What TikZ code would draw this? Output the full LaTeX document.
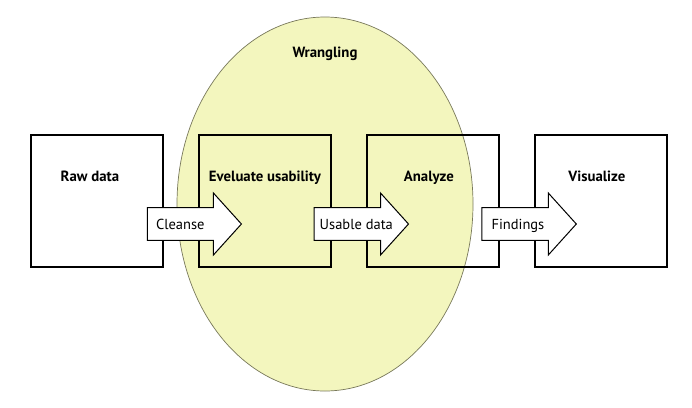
\documentclass[tikz,border=0pt]{standalone}
\usepackage{fontspec}
\setmainfont{PT Sans}
\usetikzlibrary{positioning, calc, shapes.geometric}
\definecolor{wrangfill}{RGB}{243,246,190}
\definecolor{wrangline}{RGB}{120,120,90}

\begin{document}
\begin{tikzpicture}[x=1pt, y=-1pt,
    stage/.style={rectangle, draw=black, line width=1.6pt, minimum width=132.4pt,
                  minimum height=131.8pt, inner sep=0pt},
    title/.style={font=\bfseries\fontsize{14.8}{16}\selectfont, inner sep=0pt, anchor=base},
    blk/.style={draw=black, line width=1pt, fill=white, line join=miter},
    lbl/.style={font=\fontsize{14.5}{16}\selectfont, inner sep=0pt, anchor=base west},
    node distance=34pt]
  \useasboundingbox (0,0) rectangle (692,407);
  % the wrangling area behind the stages
  \node[ellipse, draw=wrangline, line width=0.7pt, fill=wrangfill,
        minimum width=296pt, minimum height=374pt] (wrangle) at (325,204) {};
  \node[title] (wranglet) at ($(wrangle.north)+(0,40.5)$) {Wrangling};
  % stages
  \node[stage] (raw) at (96.9,201) {};
  \node[stage, right=of raw] (evaluate) {};
  \node[stage, right=of evaluate] (analyze) {};
  \node[stage, right=of analyze] (visualize) {};
  \node[title] (rawt) at ($(raw.north)+(-7,47.4)$) {Raw data};
  \node[title] (evaluatet) at ($(evaluate.north)+(0,47.4)$) {Eveluate usability};
  \node[title] (analyzet) at ($(analyze.north)+(-4,47.4)$) {Analyze};
  \node[title] (visualizet) at ($(visualize.north)+(-4,47.4)$) {Visualize};
  % block arrows between stages
  \draw[blk] ($(raw.east)+(-16.5,6.6)$) -- ++(66,0) -- ++(0,-14.6) -- ++(28,31)
    -- ++(-28,31) -- ++(0,-14.6) -- ++(-66,0) -- cycle;
  \draw[blk] ($(evaluate.east)+(-17.9,6.6)$) -- ++(66.5,0) -- ++(0,-14.6) -- ++(28,31)
    -- ++(-28,31) -- ++(0,-14.6) -- ++(-66.5,0) -- cycle;
  \draw[blk] ($(analyze.east)+(-18.1,6.6)$) -- ++(66.5,0) -- ++(0,-14.6) -- ++(28,31)
    -- ++(-28,31) -- ++(0,-14.6) -- ++(-66.5,0) -- cycle;
  \node[lbl] (cleanse) at ($(raw.east)+(-8,28)$) {Cleanse};
  \node[lbl] (usable) at ($(evaluate.east)+(-12.4,28)$) {Usable data};
  \node[lbl] (findings) at ($(analyze.east)+(-8.6,28)$) {Findings};
\end{tikzpicture}
\end{document}
